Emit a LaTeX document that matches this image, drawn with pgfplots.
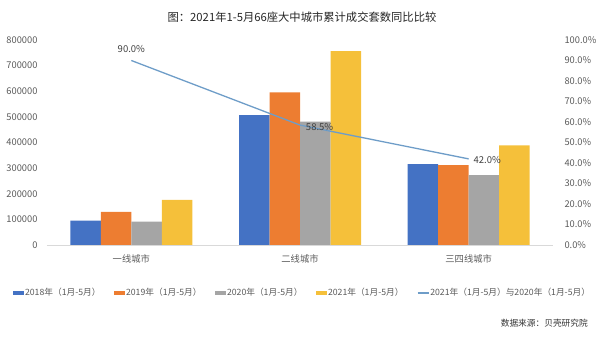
\documentclass[border=0pt]{standalone}
\usepackage{pgfplots}
\pgfplotsset{compat=1.18}
\usepackage{fontspec}
\setmainfont{Noto Sans CJK SC}
\definecolor{c18}{HTML}{4472C4}
\definecolor{c19}{HTML}{ED7D31}
\definecolor{c20}{HTML}{A5A5A5}
\definecolor{c21}{HTML}{F5C03A}
\definecolor{linec}{HTML}{6E9DC8}
\definecolor{txt}{HTML}{595959}
\begin{document}
\begin{tikzpicture}[x=1pt,y=1pt]
\path[use as bounding box] (0,0) rectangle (600,337);
\node[font=\fontsize{11.3}{13}\selectfont, text=black!85] at (302,320) {图：2021年1-5月66座大中城市累计成交套数同比比较};
\node[font=\fontsize{8.7}{10}\selectfont, text=black!80, anchor=east, inner sep=0pt] at (588,14) {数据来源：贝壳研究院};
\begin{axis}[
  at={(47pt,92pt)}, anchor=south west,
  scale only axis, width=506pt, height=205pt,
  xmin=-0.5, xmax=2.5, ymin=0, ymax=800000,
  ybar=0pt, bar width=30.5pt,
  xtick={0,1,2}, xticklabels={一线城市,二线城市,三四线城市},
  ytick={0,100000,...,800000},
  scaled y ticks=false,
  /pgf/number format/assume math mode=true,
  yticklabel style={/pgf/number format/fixed,/pgf/number format/1000 sep={}, xshift=-6pt, text=txt, font=\fontsize{9.3}{10}\selectfont},
  xticklabel style={text=txt, font=\fontsize{9.3}{10}\selectfont, yshift=-6pt},
  major tick length=0pt,
  axis x line*=bottom, axis y line*=left,
  x axis line style={draw=black!15, -},
  y axis line style={draw=none},
]
\addplot[draw=none, fill=c18] coordinates {(0,95000) (1,507000) (2,316000)};
\addplot[draw=none, fill=c19] coordinates {(0,129000) (1,596000) (2,312000)};
\addplot[draw=none, fill=c20] coordinates {(0,91000) (1,481000) (2,273000)};
\addplot[draw=none, fill=c21] coordinates {(0,176000) (1,757000) (2,389000)};
\end{axis}
\begin{axis}[
  at={(47pt,92pt)}, anchor=south west,
  scale only axis, width=506pt, height=205pt,
  xmin=-0.5, xmax=2.5, ymin=0, ymax=100,
  ytick={0,10,...,100},
  /pgf/number format/assume math mode=true,
  yticklabel={\pgfmathprintnumber[fixed,fixed zerofill,precision=1]{\tick}\%},
  yticklabel style={text=txt, font=\fontsize{9.3}{10}\selectfont, xshift=8pt},
  major tick length=0pt,
  hide x axis,
  axis y line*=right,
  y axis line style={draw=none},
  legend columns=-1,
  legend style={at={(0.504,-0.234)}, anchor=center, draw=none, fill=none,
    font=\fontsize{8.7}{10}\selectfont, text=txt,
    nodes={inner xsep=1pt, inner ysep=1pt},
    /tikz/every even column/.append style={column sep=12.5pt}},
]
\addlegendimage{area legend, draw=none, fill=c18, legend image code/.code={\fill[c18] (0pt,-2.3pt) rectangle (11pt,2.3pt);}}
\addlegendentry{2018年（1月-5月）}
\addlegendimage{area legend, draw=none, fill=c19, legend image code/.code={\fill[c19] (0pt,-2.3pt) rectangle (11pt,2.3pt);}}
\addlegendentry{2019年（1月-5月）}
\addlegendimage{area legend, draw=none, fill=c20, legend image code/.code={\fill[c20] (0pt,-2.3pt) rectangle (11pt,2.3pt);}}
\addlegendentry{2020年（1月-5月）}
\addlegendimage{area legend, draw=none, fill=c21, legend image code/.code={\fill[c21] (0pt,-2.3pt) rectangle (11pt,2.3pt);}}
\addlegendentry{2021年（1月-5月）}
\addplot[color=linec, line width=1.3pt, mark=none,
  legend image code/.code={\draw[linec, line width=1.3pt] (0pt,0pt) -- (11pt,0pt);},
  nodes near coords={\pgfmathprintnumber[fixed,fixed zerofill,precision=1]{\pgfplotspointmeta}\%},
  point meta=explicit,
  visualization depends on={value \thisrow{anc} \as \anc},
  visualization depends on={value \thisrow{dx} \as \dx},
  visualization depends on={value \thisrow{dy} \as \dy},
  every node near coord/.append style={anchor=\anc, xshift=\dx pt, yshift=\dy pt, text=black!75, font=\fontsize{9.5}{10}\selectfont, /pgf/number format/assume math mode=true},
] table[x=x, y=y, meta=y] {
x y anc dx dy
0 90.0 south 0 4
1 58.5 west 2 -2
2 42.0 west 1 -1
};
\addlegendentry{2021年（1月-5月）与2020年（1月-5月）}
\end{axis}
\end{tikzpicture}
\end{document}
